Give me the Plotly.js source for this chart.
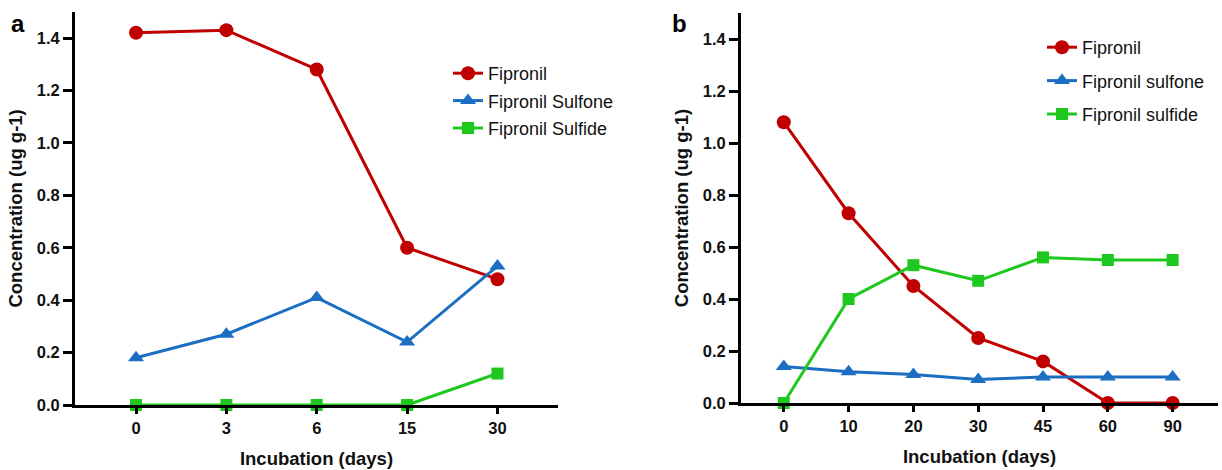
<!DOCTYPE html>
<html>
<head>
<meta charset="utf-8">
<script src="https://cdn.plot.ly/plotly-3.0.1.min.js"></script>
<style>html,body{margin:0;padding:0;background:#fff;}#chart{width:1222px;height:470px;}</style>
</head>
<body>
<div id="chart"></div>
<script>
// Panel a
const daysA = ["0", "3", "6", "15", "30"];
const fipronilA = [1.42, 1.43, 1.28, 0.60, 0.48];
const sulfoneA = [0.18, 0.27, 0.41, 0.24, 0.53];
const sulfideA = [0.00, 0.00, 0.00, 0.00, 0.12];
// Panel b
const daysB = ["0", "10", "20", "30", "45", "60", "90"];
const fipronilB = [1.08, 0.73, 0.45, 0.25, 0.16, 0.00, 0.00];
const sulfoneB = [0.14, 0.12, 0.11, 0.09, 0.10, 0.10, 0.10];
const sulfideB = [0.00, 0.40, 0.53, 0.47, 0.56, 0.55, 0.55];
const yTicks = [0, 0.2, 0.4, 0.6, 0.8, 1.0, 1.2, 1.4];

const RED = "#c00000", BLUE = "#1b6ec2", GREEN = "#1ec81e";
const FONT = "Liberation Sans, Arial, Helvetica, sans-serif";

function tr(x, y, name, color, symbol, size, xa, ya, leg, grp) {
  return {
    x: x, y: y, name: name, type: "scatter", mode: "lines+markers",
    xaxis: xa, yaxis: ya, legend: leg, legendgroup: grp,
    line: {color: color, width: 3},
    marker: {color: color, symbol: symbol, size: size},
    cliponaxis: false
  };
}

const data = [
  tr(daysA, fipronilA, "Fipronil", RED, "circle", 14, "x", "y", "legend", "a1"),
  tr(daysA, sulfoneA, "Fipronil Sulfone", BLUE, "triangle-up", 14, "x", "y", "legend", "a2"),
  tr(daysA, sulfideA, "Fipronil Sulfide", GREEN, "square", 12, "x", "y", "legend", "a3"),
  tr(daysB, fipronilB, "Fipronil", RED, "circle", 14, "x2", "y2", "legend2", "b1"),
  tr(daysB, sulfoneB, "Fipronil sulfone", BLUE, "triangle-up", 14, "x2", "y2", "legend2", "b2"),
  tr(daysB, sulfideB, "Fipronil sulfide", GREEN, "square", 12, "x2", "y2", "legend2", "b3")
];

const tickFont = {family: FONT, size: 16.5, color: "#111", weight: "bold"};
const titleFont = {family: FONT, size: 18.5, color: "#111", weight: "bold"};

function xAxis(domain, range, anchor) {
  return {
    domain: domain, anchor: anchor, type: "category", range: range,
    showline: true, linecolor: "#000", linewidth: 3,
    ticks: "outside", ticklen: 6, tickwidth: 3, tickcolor: "#000",
    showgrid: false, zeroline: false, tickfont: tickFont,
    title: {text: "Incubation (days)", font: titleFont, standoff: 17}
  };
}
function yAxis(domain, anchor) {
  return {
    domain: domain, anchor: anchor, range: [0, 1.5],
    tickvals: yTicks, ticktext: yTicks.map(v => v.toFixed(1)),
    showline: true, linecolor: "#000", linewidth: 3,
    ticks: "outside", ticklen: 9, tickwidth: 3, tickcolor: "#000",
    showgrid: false, zeroline: false, tickfont: tickFont,
    title: {text: "Concentration (ug g-1)", font: titleFont, standoff: 10}
  };
}

const legFont = {family: FONT, size: 18, color: "#111"};
const layout = {
  width: 1222, height: 470,
  margin: {l: 0, r: 0, t: 0, b: 0},
  paper_bgcolor: "#fff", plot_bgcolor: "#fff",
  showlegend: true,
  xaxis: xAxis([75/1222, 558/1222], [-0.675, 4.67], "y"),
  yaxis: yAxis([65/470, 458.2/470], "x"),
  xaxis2: xAxis([741/1222, 1218/1222], [-0.66, 6.70], "y2"),
  yaxis2: yAxis([67/470, 457/470], "x2"),
  legend: {x: 448/1222, xanchor: "left", y: 1 - 55/470, yanchor: "top",
           font: legFont, traceorder: "grouped", tracegroupgap: 1, bgcolor: "rgba(0,0,0,0)"},
  legend2: {x: 1042/1222, xanchor: "left", y: 1 - 29/470, yanchor: "top",
            font: legFont, traceorder: "grouped", tracegroupgap: 7, bgcolor: "rgba(0,0,0,0)"},
  annotations: [
    {text: "a", xref: "paper", yref: "paper", x: 9/1222, y: 1 - 24/470, xanchor: "left", yanchor: "middle",
     showarrow: false, font: {family: FONT, size: 24, color: "#000", weight: "bold"}},
    {text: "b", xref: "paper", yref: "paper", x: 670/1222, y: 1 - 23/470, xanchor: "left", yanchor: "middle",
     showarrow: false, font: {family: FONT, size: 24, color: "#000", weight: "bold"}}
  ]
};

Plotly.newPlot("chart", data, layout, {displayModeBar: false, staticPlot: true});
</script>
</body>
</html>
